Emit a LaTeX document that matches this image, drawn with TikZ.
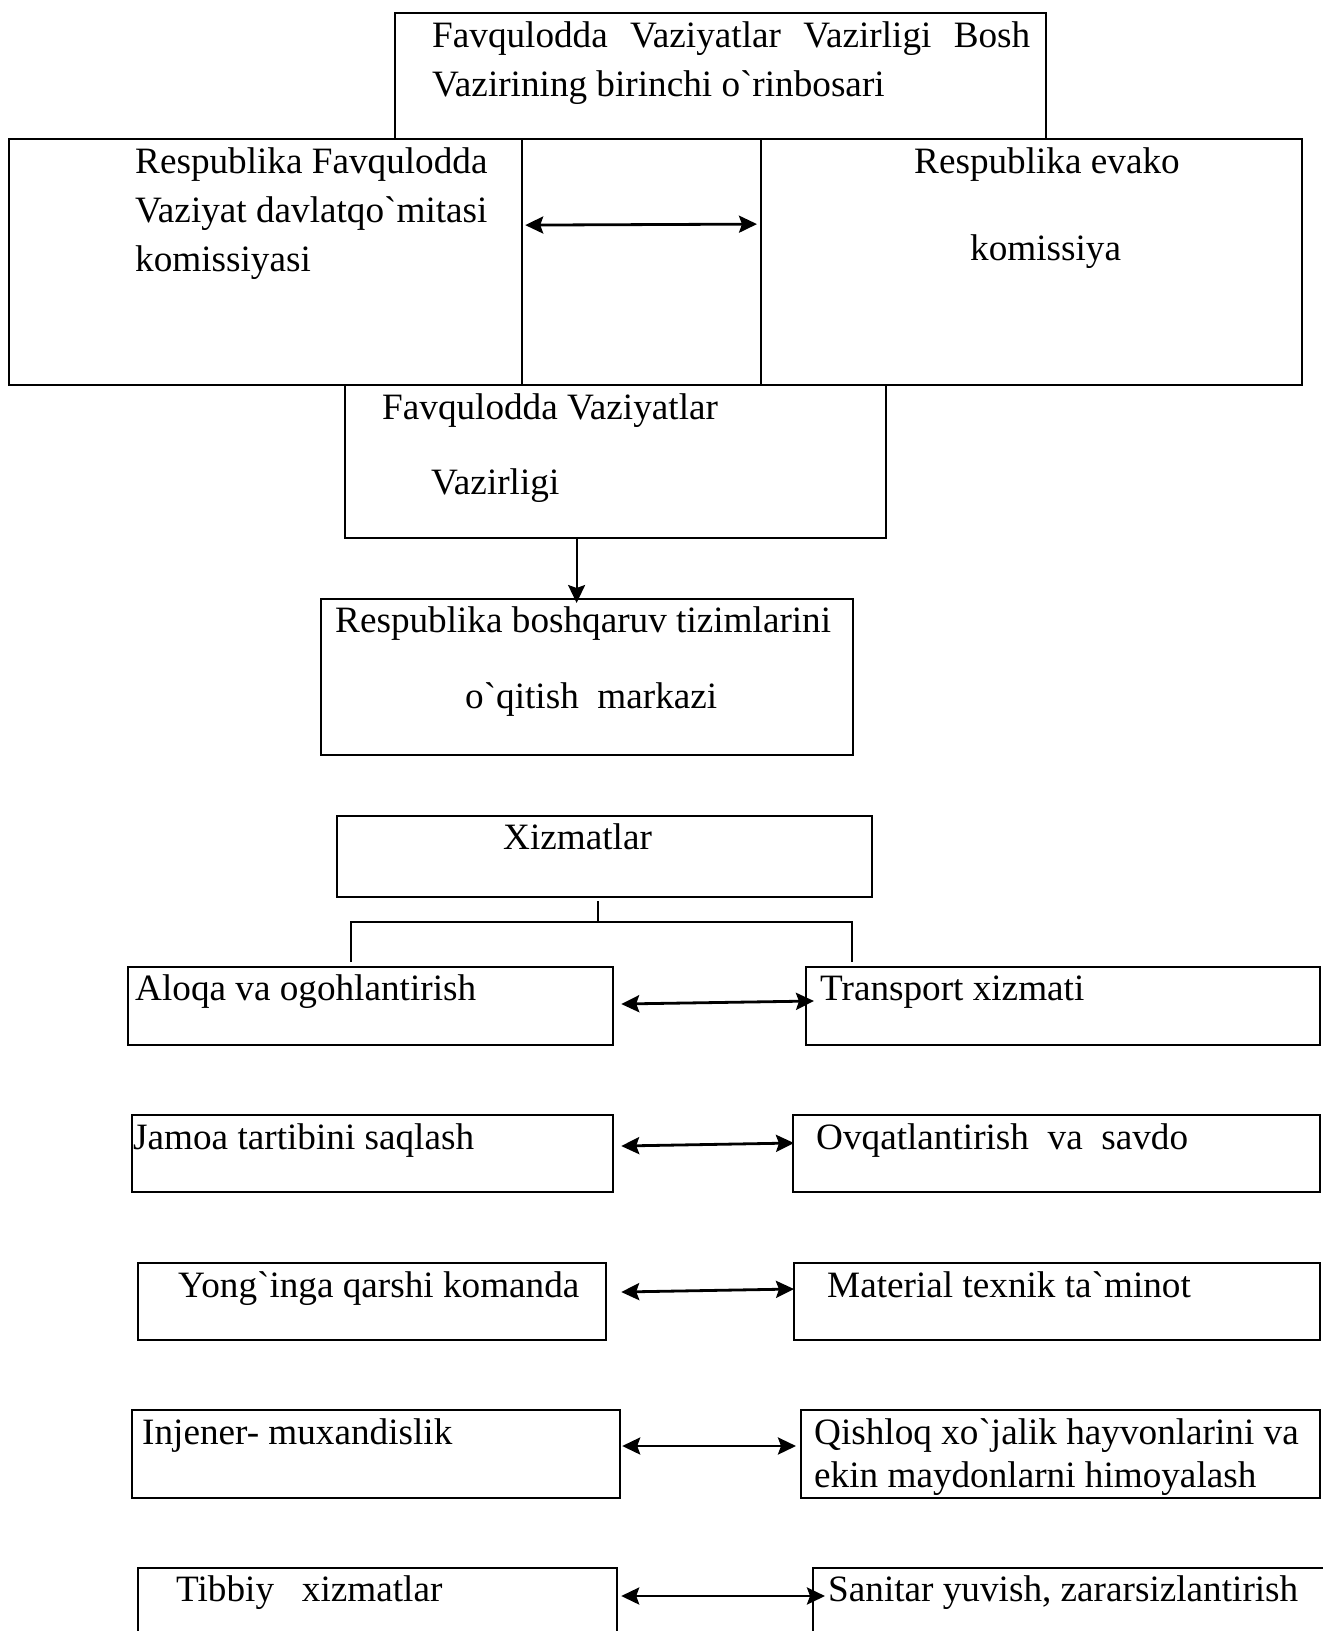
\documentclass[tikz,border=0pt]{standalone}
\usepackage{fontspec}
\setmainfont{Liberation Serif}[Ligatures=TeXOff]
\usetikzlibrary{arrows.meta,calc}

% empty framed box: name, left, top, width, height
\newcommand\mkbox[5]{\node[box,minimum width=#4pt,minimum height=#5pt] (#1) at (#2,#3) {};}

\begin{document}
\begin{tikzpicture}[x=1pt,y=-1pt,
  box/.style={draw,line width=2.2pt,rectangle,inner sep=0pt,anchor=north west},
  txt/.style={anchor=base west,inner sep=0pt,font=\fontsize{37.2}{44}\selectfont},
  dbl/.style={line width=2.8pt,{Stealth[length=18pt,width=17pt,inset=3pt]}-{Stealth[length=18pt,width=17pt,inset=3pt]}},
  one/.style={line width=2.2pt,-{Stealth[length=18pt,width=17pt,inset=3pt]}},
  link/.style={line width=1.4pt}]
\useasboundingbox (0,0) rectangle (1323,1631);
\clip (0,0) rectangle (1323,1631);
\fill[white] (0,0) rectangle (1323,1631);

% upper part of the scheme
\mkbox{chief}{394}{12}{651}{126}
\mkbox{rfv}{8}{138}{513}{246}
\mkbox{mid}{521}{138}{239}{246}
\mkbox{evako}{760}{138}{541}{246}
\mkbox{fvv}{344}{384}{541}{153}
\mkbox{rbt}{320}{598}{532}{156}

% services
\mkbox{xiz}{336}{815}{535}{81}
\mkbox{aloqa}{127}{966}{485}{78}
\mkbox{transport}{805}{966}{514}{78}
\mkbox{jamoa}{131}{1114}{481}{77}
\mkbox{ovqat}{792}{1114}{527}{77}
\mkbox{yong}{137}{1262}{468}{77}
\mkbox{material}{793}{1262}{526}{77}
\mkbox{injener}{131}{1409}{488}{88}
\mkbox{qishloq}{800}{1409}{519}{88}
\mkbox{tibbiy}{137}{1567}{479}{100}
\mkbox{sanitar}{812}{1567}{530}{100}

% labels
\node[txt] (c1) at (432,47) {\makebox[598pt][s]{Favqulodda Vaziyatlar Vazirligi Bosh}};
\node[txt] (c2) at (432,96) {Vazirining birinchi o`rinbosari};
\node[txt] (r1) at (135,173) {Respublika Favqulodda};
\node[txt] (r2) at (135,222) {Vaziyat davlatqo`mitasi};
\node[txt] (r3) at (135,271) {komissiyasi};
\node[txt] (e1) at (914,173) {Respublika evako};
\node[txt] (e2) at (970,260) {komissiya};
\node[txt] (f1) at (382,419) {Favqulodda Vaziyatlar};
\node[txt] (f2) at (431,494) {Vazirligi};
\node[txt] (b1) at (335,632) {Respublika boshqaruv tizimlarini};
\node[txt] (b2) at (465,708) {o`qitish\ \ markazi};
\node[txt] (x1) at (503,849) {Xizmatlar};
\node[txt] (l1) at (135,1000) {Aloqa va ogohlantirish};
\node[txt] (l2) at (820,1000) {Transport xizmati};
\node[txt] (l3) at (133,1149) {Jamoa tartibini saqlash};
\node[txt] (l4) at (816,1149) {Ovqatlantirish\ \ va\ \ savdo};
\node[txt] (l5) at (178,1297) {Yong`inga qarshi komanda};
\node[txt] (l6) at (827,1297) {Material texnik ta`minot};
\node[txt] (l7) at (142,1444) {Injener- muxandislik};
\node[txt] (l8) at (814,1444) {Qishloq xo`jalik hayvonlarini va};
\node[txt] (l9) at (814,1487) {ekin maydonlarni himoyalash};
\node[txt] (l10) at (176,1601) {Tibbiy\ \ \ xizmatlar};
\node[txt] (l11) at (828,1601) {Sanitar yuvish, zararsizlantirish};

% connectors
\draw[dbl] ([shift={(2,-37)}]rfv.east) -- ([shift={(-3,-38)}]evako.west);
\draw[one] ([shift={(-39,0)}]fvv.south) -- ([shift={(-10.5,5)}]rbt.north);

\coordinate (hub) at (598,922);
\coordinate (bl) at (351,922);
\coordinate (br) at (852,922);
\draw[link] (xiz.south -| hub) ++(0,3) -- (hub);
\draw[link] ($(aloqa.north -| bl)+(0,-4)$) -- (bl) -- (br) -- ($(transport.north -| br)+(0,-4)$);

\draw[dbl] ([shift={(7,38)}]aloqa.north east) -- ([shift={(9,35)}]transport.north west);
\draw[dbl] ([shift={(7,32)}]jamoa.north east) -- ([shift={(2,29)}]ovqat.north west);
\draw[dbl] ([shift={(14,30)}]yong.north east) -- ([shift={(1,27)}]material.north west);
\draw[dbl] ([shift={(1,37)}]injener.north east) -- ([shift={(-4,37)}]qishloq.north west);
\draw[dbl] ([shift={(3,29)}]tibbiy.north east) -- ([shift={(13,29)}]sanitar.north west);
\end{tikzpicture}
\end{document}
